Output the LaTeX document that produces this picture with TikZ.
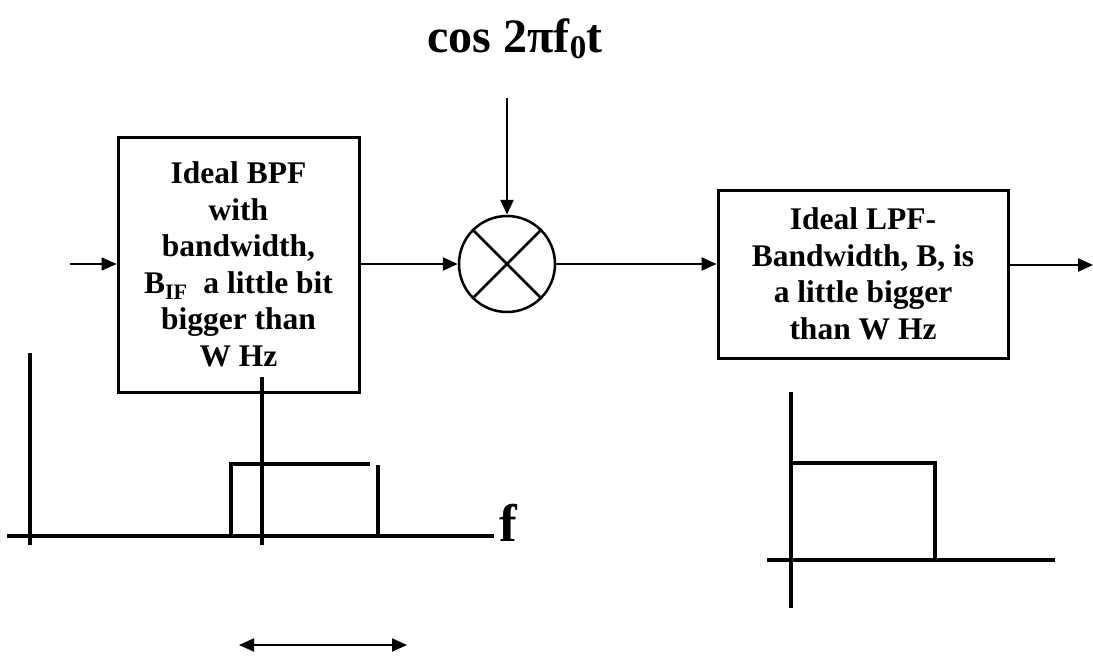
\documentclass[tikz,border=0pt]{standalone}
\usepackage{fontspec}
\setmainfont{Liberation Serif}
\usetikzlibrary{arrows.meta}
\tikzset{
  sig/.style={-{Triangle[length=15pt,width=13pt]}, line width=2.5pt},
  filt/.style={draw, line width=3pt, align=center, inner sep=0pt,
    font=\fontsize{31.5}{36.5}\selectfont\bfseries},
  spec/.style={line width=4pt}
}
\begin{document}
\begin{tikzpicture}[x=1pt,y=-1pt]
\useasboundingbox (0,0) rectangle (1093,656);

% blocks
\node[filt, minimum width=241pt, minimum height=255pt] (bpf) at (238.5,264.5)
  {Ideal BPF\\with\\bandwidth,\\B\textsubscript{IF}\ \ a little bit\\bigger than\\W Hz};
\node[draw, circle, line width=2.5pt, minimum size=96pt, inner sep=0pt] (mix) at (507,264) {};
\draw[line width=2.5pt] (mix.north west) -- (mix.south east)
  (mix.north east) -- (mix.south west);
\node[filt, minimum width=290pt, minimum height=168pt] (lpf) at (863,274)
  {Ideal LPF-\\Bandwidth, B, is\\a little bigger\\than W Hz};
\node[font=\fontsize{48}{54}\selectfont\bfseries, anchor=base] (osc) at (515,52)
  {cos 2\symbol{"03C0}f{\fontsize{33}{33}\selectfont\raisebox{-6pt}{0}}t};

\coordinate (in) at (70,264);
\coordinate (lo) at (507,98);
\coordinate (out) at (1093,265);

% signal path
\draw[sig, line width=1.5pt] (in) -- (in -| bpf.west);
\draw[sig] (bpf.east |- mix.west) -- (mix.west);
\draw[sig] (lo) -- (mix.north);
\draw[sig] (mix.east) -- (mix.east -| lpf.west);
\draw[sig] (lpf.east |- out) -- (out);

% BPF spectrum
\draw[spec] (7,536) -- (494,536);
\draw[spec] (30,353) -- (30,545);
\draw[spec] (262,377) -- (262,545);
\draw[spec] (231,536) -- (231,464) -- (370,464);
\draw[spec] (378,465) -- (378,536);
\node[font=\fontsize{53}{60}\selectfont\bfseries, anchor=base west, inner sep=0pt] (f) at (499,541) {f};
\coordinate (bl) at (239,645);
\coordinate (br) at (407,645);
\draw[{Triangle[length=15pt,width=13pt]}-{Triangle[length=15pt,width=13pt]}, line width=2pt] (bl) -- (br);

% LPF spectrum
\draw[spec] (767,560) -- (1055,560);
\draw[spec] (791,392) -- (791,608);
\draw[spec] (791,463) -- (935,463) -- (935,560);
\end{tikzpicture}
\end{document}
